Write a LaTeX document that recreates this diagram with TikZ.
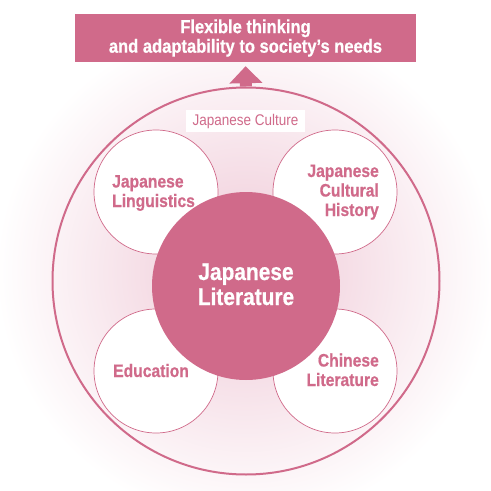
\documentclass[tikz,border=0pt]{standalone}
\usepackage{fontspec}
\setmainfont[FakeStretch=0.87]{Liberation Sans}
\newfontfamily\condbold[FakeStretch=0.87, FakeBold=0.6]{Liberation Sans Bold}
\usetikzlibrary{arrows.meta,positioning}
\definecolor{CultureRose}{HTML}{D06A8A}
\definecolor{CultureBlush}{HTML}{EFC8D6}
\tikzset{
  field/.style={circle, draw=CultureRose, line width=0.7pt, fill=white,
    minimum size=124pt, inner sep=0pt},
  fieldtext/.style={text=CultureRose, inner sep=0pt,
    font=\fontsize{18}{19.5}\selectfont\condbold},
}

\begin{document}
\begin{tikzpicture}[x=1pt, y=-1pt]
  \useasboundingbox (0,0) rectangle (491,491);
  \shade[inner color=CultureBlush, outer color=white] (246,272) circle[radius=250];

  \node[circle, draw=CultureRose, line width=2pt, minimum size=387pt,
    inner sep=0pt] (culture) at (246,281) {};
  \node[fill=white, text=CultureRose, minimum width=119pt, minimum height=22pt,
    font=\fontsize{15.5}{15}\selectfont] (culturelabel) at (245.5,121) {Japanese Culture};

  \node[field] (linguistics) at (156,192) {};
  \node[field] (history) at (335,192) {};
  \node[field] (education) at (156,371) {};
  \node[field] (chinese) at (335,371) {};
  \node[circle, fill=CultureRose, minimum size=188pt, inner sep=0pt]
    (literature) at (246,286) {};

  \node[fieldtext, align=left, anchor=base west] (linguisticstext) at (112,207)
    {Japanese\\Linguistics};
  \node[fieldtext, align=right, anchor=base east] (historytext) at (379,216)
    {Japanese\\Cultural\\History};
  \node[fieldtext, align=left, anchor=base west] (educationtext) at (113,377)
    {Education};
  \node[fieldtext, align=right, anchor=base east] (chinesetext) at (379,386)
    {Chinese\\Literature};
  \node[text=white, inner sep=0pt, align=center, anchor=base,
    font=\fontsize{24}{25}\selectfont\condbold] (literaturetext) at (246,305)
    {Japanese\\Literature};

  \node[fill=CultureRose, minimum width=341pt, minimum height=48pt, text=white,
    align=center, font=\fontsize{19}{19.5}\selectfont\condbold] (goal) at (245.5,38)
    {Flexible thinking\\and adaptability to society’s needs};

  \draw[-{Triangle[width=32pt,length=17pt]}, line width=12pt, draw=CultureRose,
    shorten >=4pt] (culture.north) -- (goal.south);
\end{tikzpicture}
\end{document}
